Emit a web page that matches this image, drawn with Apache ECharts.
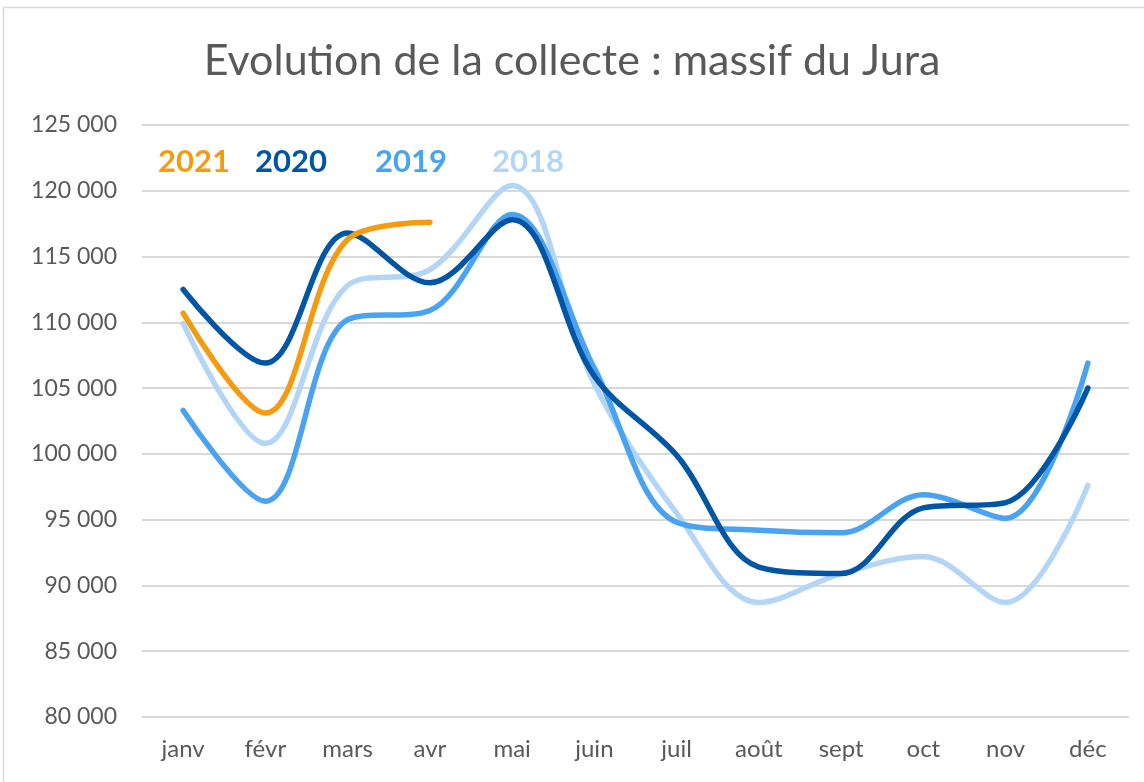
<!DOCTYPE html>
<html>
<head>
<meta charset="utf-8">
<script src="https://cdn.jsdelivr.net/npm/echarts@6/dist/echarts.min.js"></script>
<style>
html,body{margin:0;padding:0;background:#fff;}
#chart{width:1144px;height:782px;}
</style>
</head>
<body>
<div id="chart"></div>
<script>
const months = ['janv','févr','mars','avr','mai','juin','juil','août','sept','oct','nov','déc'];
const years = ['2021','2020','2019','2018'];
const s2021 = [110700, 103100, 116300, 117600];
const s2020 = [112500, 106900, 116800, 113000, 117800, 105900, 99900, 91400, 90900, 95900, 96300, 105000];
const s2019 = [103300, 96400, 110200, 110900, 118200, 106500, 94800, 94200, 94000, 96900, 95100, 106900];
const s2018 = [109900, 100800, 112800, 114000, 120400, 105300, 95500, 88700, 90900, 92200, 88700, 97600];
const colors = {'2021':'#f39c12','2020':'#0055a4','2019':'#4aa3f0','2018':'#b3d6f7'};
const legendLeft = [148, 245, 365, 482];

const font = 'Lato, "Open Sans", sans-serif';
const chart = echarts.init(document.getElementById('chart'));
const fmt = v => String(v).replace(/\B(?=(\d{3})+(?!\d))/g, ' ');
const mk = (name, data) => ({
  name, type:'line', data, smooth:0.35, symbol:'none',
  lineStyle:{width:5.5, color:colors[name], cap:'round'},
  itemStyle:{color:colors[name]}
});
chart.setOption({
  animation:false,
  graphic:[{type:'rect', shape:{x:3.5,y:7.5,width:1200,height:800}, style:{fill:'none', stroke:'#d9d9d9', lineWidth:1.5}, silent:true}],
  title:{text:'Evolution de la collecte : massif du Jura', left:'center', top:35,
    textStyle:{fontFamily:font, fontSize:43, fontWeight:'normal', color:'#595959'}},
  legend: years.map((y,i)=>({data:[y], left:legendLeft[i], top:141, icon:'none', itemWidth:0, itemGap:0,
    textStyle:{fontFamily:font, fontSize:31, fontWeight:'bold', color:colors[y]}})),
  grid:{left:142, right:15, top:125, bottom:65},
  xAxis:{type:'category', data:months, boundaryGap:true,
    axisLine:{show:false}, axisTick:{show:false},
    axisLabel:{fontFamily:font, fontSize:24, color:'#595959', margin:20}},
  yAxis:{type:'value', min:80000, max:125000, interval:5000,
    axisLine:{show:false}, axisTick:{show:false},
    splitLine:{lineStyle:{color:'#d9d9d9', width:2}},
    axisLabel:{fontFamily:font, fontSize:23, color:'#595959', margin:25, formatter:fmt}},
  series:[mk('2018', s2018), mk('2019', s2019), mk('2020', s2020), mk('2021', s2021)]
});
</script>
</body>
</html>
